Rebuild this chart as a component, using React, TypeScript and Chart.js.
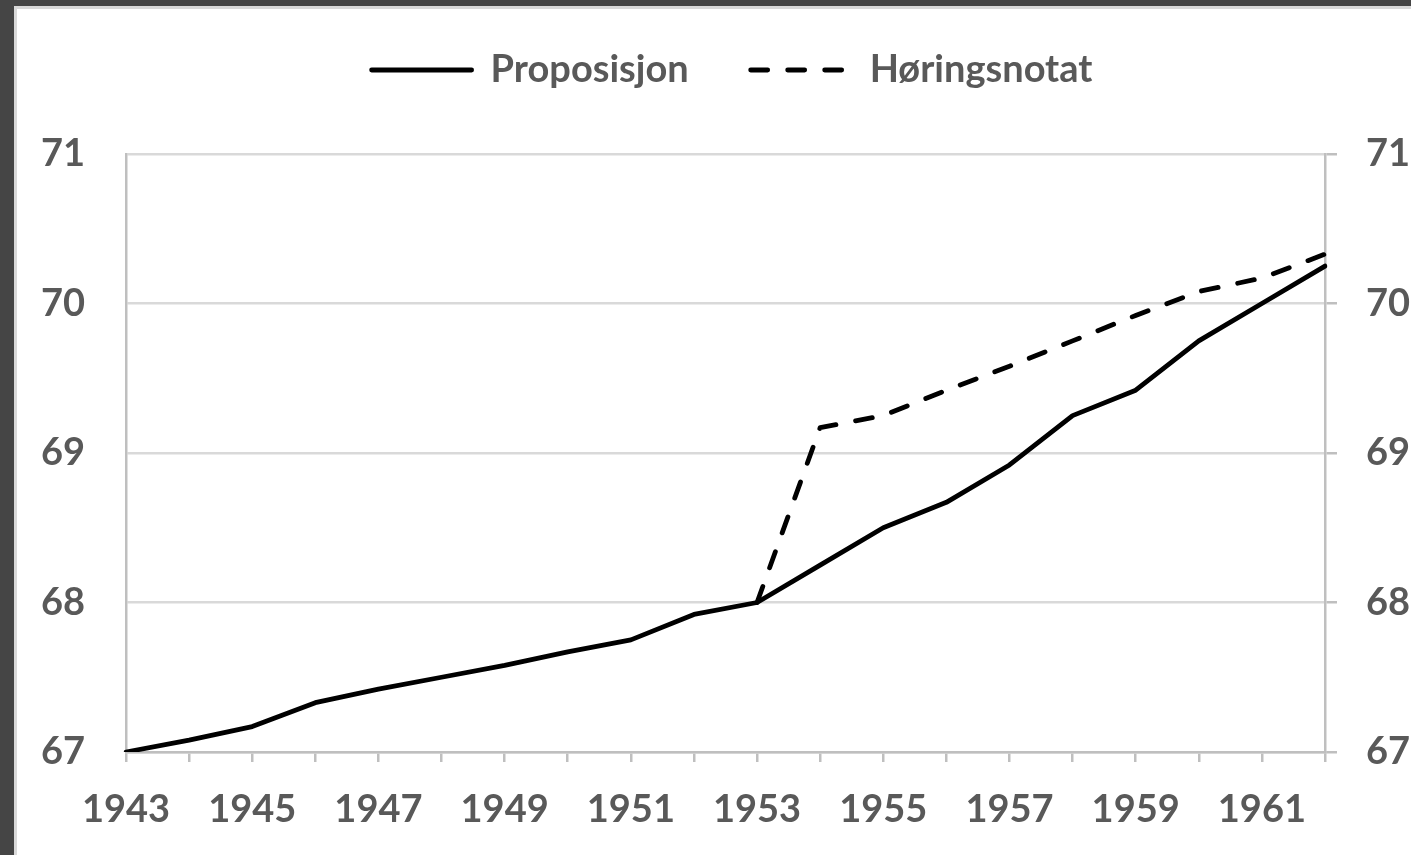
import React, { useEffect, useRef } from "react";
import { Chart, registerables } from "chart.js";

Chart.register(...registerables);

const years = ["1943","1944","1945","1946","1947","1948","1949","1950","1951","1952","1953","1954","1955","1956","1957","1958","1959","1960","1961","1962"];
const proposisjon = [67.0, 67.08, 67.17, 67.33, 67.42, 67.5, 67.58, 67.67, 67.75, 67.92, 68.0, 68.25, 68.5, 68.67, 68.92, 69.25, 69.42, 69.75, 70.0, 70.25];
const horingsnotat = [null, null, null, null, null, null, null, null, null, null, 68.0, 69.17, 69.25, 69.42, 69.58, 69.75, 69.92, 70.08, 70.17, 70.33];
const yMin = 67;
const yMax = 71;

const FONT = "Lato";
const TEXT = "#595959";
const GRID = "#d9d9d9";
const AXIS = "#bfbfbf";
const LINE_W = 4.8;

export default function App() {
  const ref = useRef<HTMLCanvasElement | null>(null);

  useEffect(() => {
    if (!ref.current) return;
    const legendHeight = {
      id: "legendHeight",
      beforeInit(chart: any) {
        const legend = chart.legend;
        if (!legend) return;
        const fit = legend.fit;
        legend.fit = function () {
          fit.call(legend);
          this.height = 165;
        };
      },
    };
    const chart = new Chart(ref.current, {
      type: "line",
      data: {
        labels: years,
        datasets: [
          {
            label: "Proposisjon",
            data: proposisjon,
            borderColor: "#000",
            backgroundColor: "#000",
            borderWidth: LINE_W,
            pointRadius: 0,
            tension: 0,
            borderCapStyle: "round",
            borderJoinStyle: "round",
            yAxisID: "y",
          },
          {
            label: "Høringsnotat",
            data: horingsnotat,
            borderColor: "#000",
            backgroundColor: "#000",
            borderWidth: LINE_W,
            borderDash: [17, 20],
            pointRadius: 0,
            tension: 0,
            borderCapStyle: "round",
            borderJoinStyle: "round",
            yAxisID: "y",
          },
        ],
      },
      plugins: [legendHeight],
      options: {
        responsive: false,
        animation: false,
        layout: { padding: { top: -20, left: 0, right: 0, bottom: 0 } },
        plugins: {
          tooltip: { enabled: false },
          legend: {
            display: true,
            position: "top",
            align: "center",
            labels: {
              usePointStyle: true,
              pointStyle: "line",
              pointStyleWidth: 100,
              boxWidth: 100,
              padding: 62,
              color: TEXT,
              font: { family: FONT, size: 38, weight: "bold" },
              generateLabels: (c: any) => {
                const items = Chart.defaults.plugins.legend.labels.generateLabels(c);
                items.forEach((it: any, i: number) => {
                  const ds: any = c.data.datasets[i];
                  it.lineDash = ds.borderDash || [];
                  it.lineCap = "round";
                  it.lineWidth = LINE_W;
                  it.strokeStyle = "#000";
                  it.pointStyle = "line";
                });
                return items;
              },
            },
          },
        },
        scales: {
          x: {
            type: "category",
            offset: false,
            grid: {
              drawOnChartArea: false,
              drawTicks: true,
              tickLength: 10,
              color: AXIS,
              lineWidth: 2.5,
            },
            border: { color: AXIS, width: 2.5 },
            ticks: {
              autoSkip: false,
              maxRotation: 0,
              minRotation: 0,
              padding: 25,
              color: TEXT,
              font: { family: FONT, size: 38, weight: "bold" },
              callback: (_v: any, i: number) => (i % 2 === 0 ? years[i] : ""),
            },
            afterFit: (s: any) => {
              s.height = 103;
            },
          },
          y: {
            position: "left",
            min: yMin,
            max: yMax,
            grid: { drawTicks: false, color: GRID, lineWidth: 2.5 },
            border: { color: AXIS, width: 2.5 },
            ticks: {
              stepSize: 1,
              padding: 41,
              color: TEXT,
              font: { family: FONT, size: 38, weight: "bold" },
            },
            afterFit: (s: any) => {
              s.width = 109;
            },
          },
          y2: {
            position: "right",
            min: yMin,
            max: yMax,
            grid: {
              drawOnChartArea: false,
              drawTicks: true,
              tickLength: 12,
              color: AXIS,
              lineWidth: 2.5,
            },
            border: { color: AXIS, width: 2.5 },
            ticks: {
              stepSize: 1,
              padding: 29,
              color: TEXT,
              font: { family: FONT, size: 38, weight: "bold" },
            },
            afterFit: (s: any) => {
              s.width = 122;
            },
          },
        },
      },
    } as any);
    return () => chart.destroy();
  }, []);

  return (
    <div
      style={{
        position: "fixed",
        left: 0,
        top: 0,
        width: 1411,
        height: 855,
        background: "#454545",
        overflow: "hidden",
      }}
    >
      <div
        style={{
          position: "absolute",
          left: 14,
          top: 6,
          width: 1500,
          height: 900,
          background: "#fff",
          borderLeft: "3px solid #d9d9d9",
          borderTop: "3px solid #d9d9d9",
        }}
      >
        <canvas
          ref={ref}
          width={1430}
          height={846}
          style={{ position: "absolute", left: 0, top: 0, width: 1430, height: 846 }}
        />
      </div>
    </div>
  );
}
